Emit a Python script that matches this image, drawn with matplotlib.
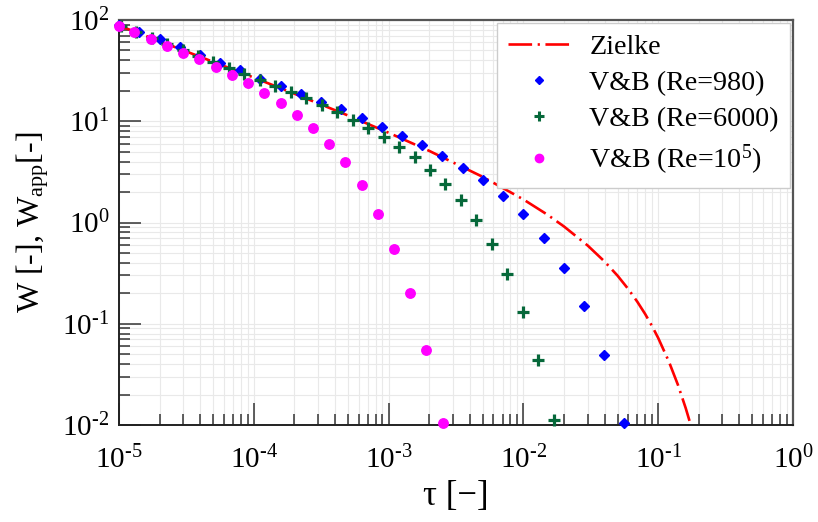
import math
import matplotlib
matplotlib.use("Agg")
import matplotlib.pyplot as plt
from matplotlib.ticker import LogLocator, NullFormatter, FuncFormatter
from matplotlib.lines import Line2D

# Zielke weighting function (laminar), sampled along the curve
zielke_tau = [1e-5, 2e-5, 5e-5, 1e-4, 2e-4, 5e-4, 1e-3, 2e-3, 5e-3, 1e-2,
              1.5e-2, 2e-2, 3e-2, 4e-2, 5e-2, 6e-2, 7e-2, 8e-2, 9e-2, 0.10,
              0.12, 0.14, 0.16, 0.18]
zielke_w = [88.0, 61.8, 38.6, 27.0, 18.7, 11.4, 7.7, 5.1, 2.82, 1.69,
            1.20, 0.914, 0.592, 0.412, 0.298, 0.220, 0.165, 0.125, 0.095, 0.0724,
            0.0424, 0.0250, 0.0147, 0.0087]

# Vardy & Brown, Re = 980
vb980_tau = [1.0e-5, 1.41e-5, 2.0e-5, 2.82e-5, 3.98e-5, 5.62e-5, 7.94e-5, 1.12e-4,
             1.58e-4, 2.24e-4, 3.16e-4, 4.47e-4, 6.31e-4, 8.91e-4, 1.26e-3, 1.78e-3,
             2.51e-3, 3.55e-3, 5.01e-3, 7.08e-3, 1.0e-2, 1.41e-2, 2.0e-2, 2.82e-2,
             3.98e-2, 5.62e-2]
vb980_w = [89.0, 75.6, 64.5, 54.5, 45.1, 37.9, 32.1, 26.3,
           22.3, 18.5, 15.4, 13.1, 10.7, 8.83, 7.20, 5.83,
           4.54, 3.48, 2.61, 1.84, 1.205, 0.703, 0.354, 0.150,
           0.0491, 0.0105]

# Vardy & Brown, Re = 6000
vb6000_tau = [1.03e-5, 1.34e-5, 1.75e-5, 2.27e-5, 2.96e-5, 3.86e-5, 5.02e-5, 6.54e-5,
              8.52e-5, 1.11e-4, 1.44e-4, 1.88e-4, 2.45e-4, 3.19e-4, 4.16e-4, 5.41e-4,
              7.05e-4, 9.18e-4, 1.20e-3, 1.56e-3, 2.03e-3, 2.64e-3, 3.44e-3, 4.48e-3,
              5.83e-3, 7.60e-3, 9.89e-3, 1.29e-2, 1.68e-2]
vb6000_w = [87.0, 76.0, 66.0, 58.0, 50.5, 44.0, 38.5, 33.6,
            29.3, 25.5, 22.3, 19.3, 16.8, 14.5, 12.4, 10.4,
            8.52, 6.94, 5.61, 4.41, 3.30, 2.40, 1.66, 1.05,
            0.609, 0.308, 0.130, 0.0438, 0.0112]

# Vardy & Brown, Re = 1e5
vb1e5_tau = [1.0e-5, 1.30e-5, 1.72e-5, 2.27e-5, 2.99e-5, 3.95e-5, 5.21e-5, 6.87e-5,
             9.06e-5, 1.20e-4, 1.58e-4, 2.08e-4, 2.75e-4, 3.63e-4, 4.78e-4, 6.31e-4,
             8.32e-4, 1.10e-3, 1.45e-3, 1.91e-3, 2.52e-3]
vb1e5_w = [87.3, 75.6, 64.5, 55.7, 47.5, 40.9, 34.1, 28.4,
           23.7, 19.1, 15.0, 11.5, 8.63, 5.96, 3.93, 2.32,
           1.22, 0.547, 0.200, 0.055, 0.0105]

x_ticks = [1e-5, 1e-4, 1e-3, 1e-2, 1e-1, 1e0]
y_ticks = [1e-2, 1e-1, 1e0, 1e1, 1e2]

plt.rcParams["font.family"] = ["Liberation Serif", "DejaVu Serif"]
plt.rcParams["mathtext.fontset"] = "custom"
plt.rcParams["mathtext.rm"] = "Liberation Serif"
plt.rcParams["mathtext.it"] = "Liberation Serif:italic"
plt.rcParams["mathtext.bf"] = "Liberation Serif:bold"
plt.rcParams["lines.scale_dashes"] = False

fig = plt.figure(figsize=(8.18, 5.22), dpi=100)
ax = fig.add_axes([0.1455, 0.1858, 0.8239, 0.7759])

ax.set_xscale("log")
ax.set_yscale("log")
ax.set_xlim(1e-5, 1e0)
ax.set_ylim(1e-2, 1e2)

red = "#ff0000"
blue = "#0000ff"
green = "#06683a"
magenta = "#ff00ff"
dash_dot = (17, 4, 1.6, 4)

ax.plot(zielke_tau, zielke_w, color=red, lw=1.9, dashes=dash_dot, zorder=2)
ax.plot(vb980_tau, vb980_w, ls="none", marker="D", ms=5.6, color=blue,
        mec=blue, zorder=3, clip_on=False)
ax.plot(vb6000_tau, vb6000_w, ls="none", marker="+", ms=8, mew=2.3, color=green,
        zorder=4, clip_on=False)
ax.plot(vb1e5_tau, vb1e5_w, ls="none", marker="o", ms=6.8, color=magenta,
        mec=magenta, zorder=5, clip_on=False)

ax.xaxis.set_major_locator(LogLocator(base=10, numticks=20))
ax.yaxis.set_major_locator(LogLocator(base=10, numticks=20))
ax.xaxis.set_minor_locator(LogLocator(base=10, subs=range(2, 10), numticks=100))
ax.yaxis.set_minor_locator(LogLocator(base=10, subs=range(2, 10), numticks=100))
ax.xaxis.set_minor_formatter(NullFormatter())
ax.yaxis.set_minor_formatter(NullFormatter())


def pow_label(v, pos):
    e = int(round(math.log10(v)))
    if e < 0:
        return r"$\mathregular{10^{\text{-}%d}}$" % (-e)
    return r"$\mathregular{10^{%d}}$" % e


ax.xaxis.set_major_formatter(FuncFormatter(pow_label))
ax.yaxis.set_major_formatter(FuncFormatter(pow_label))
ax.set_xticks(x_ticks)
ax.set_yticks(y_ticks)

ax.grid(which="both", color="#e9e9e9", lw=0.8, zorder=0)
ax.set_axisbelow(True)

ax.tick_params(which="both", direction="in", top=False, right=False,
               color="#333333", width=1.1)
ax.tick_params(which="major", length=16, labelsize=21)
ax.tick_params(which="minor", length=8)
ax.tick_params(axis="x", which="major", pad=15)
ax.tick_params(axis="y", which="major", pad=7)

for side in ("bottom", "left"):
    ax.spines[side].set_color("#222222")
    ax.spines[side].set_linewidth(1.4)
for side in ("top", "right"):
    ax.spines[side].set_color("#555555")
    ax.spines[side].set_linewidth(1.6)

ax.set_xlabel("τ [−]", fontsize=25, labelpad=4)
ax.set_ylabel(r"W [-], W$_{\mathrm{app}}$[-]", fontsize=23, labelpad=8)

handles = [
    Line2D([], [], color=red, lw=1.9, dashes=dash_dot),
    Line2D([], [], ls="none", marker="D", ms=4.5, color=blue),
    Line2D([], [], ls="none", marker="+", ms=7, mew=2.2, color=green),
    Line2D([], [], ls="none", marker="o", ms=6, color=magenta),
]
labels = ["Zielke", "V&B (Re=980)", "V&B (Re=6000)", r"V&B (Re=10$^{5}$)"]
leg = ax.legend(handles, labels, loc="upper right", fontsize=20.2,
                frameon=True, fancybox=False, edgecolor="#cccccc",
                framealpha=1.0, borderaxespad=0.1, handlelength=2.2,
                handletextpad=0.7, labelspacing=0.38, borderpad=0.4)
leg.get_frame().set_linewidth(1.0)

fig.savefig("out.png", dpi=100)
